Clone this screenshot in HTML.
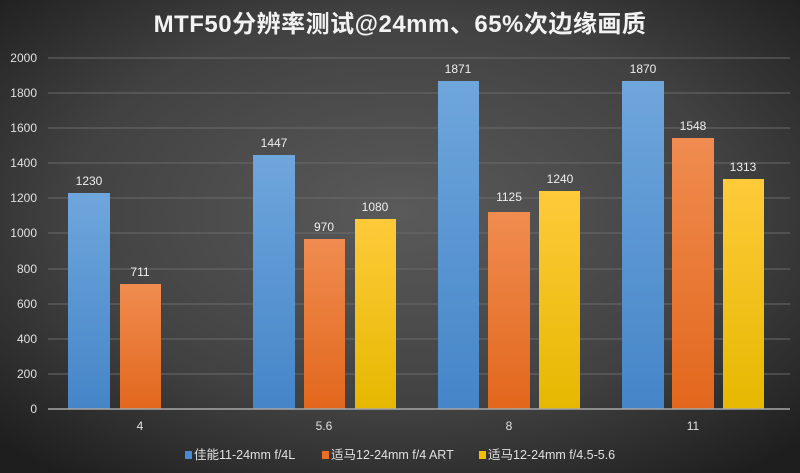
<!DOCTYPE html>
<html><head><meta charset="utf-8"><style>
html,body{margin:0;padding:0;width:800px;height:473px;overflow:hidden;background:#333}
</style></head><body>
<svg width="800" height="473" xmlns="http://www.w3.org/2000/svg" font-family="Liberation Sans, Noto Sans CJK SC, sans-serif">
<defs>
<radialGradient id="bg" cx="0.5" cy="0.45" r="0.7">
<stop offset="0" stop-color="#5a5a5a"/><stop offset="0.6" stop-color="#414141"/><stop offset="1" stop-color="#1e1e1e"/>
</radialGradient>
<linearGradient id="gb" x1="0" y1="0" x2="0" y2="1"><stop offset="0" stop-color="#6fa6dc"/><stop offset="1" stop-color="#4585c8"/></linearGradient>
<linearGradient id="go" x1="0" y1="0" x2="0" y2="1"><stop offset="0" stop-color="#f08c50"/><stop offset="1" stop-color="#e2671c"/></linearGradient>
<linearGradient id="gy" x1="0" y1="0" x2="0" y2="1"><stop offset="0" stop-color="#ffca3a"/><stop offset="1" stop-color="#e6b800"/></linearGradient>
</defs>
<rect width="800" height="473" fill="url(#bg)"/>
<text x="400" y="32" text-anchor="middle" fill="#f2f2f2" font-size="24" font-weight="bold" letter-spacing="0.5">MTF50分辨率测试@24mm、65%次边缘画质</text>
<g stroke="#6a6a6a" stroke-width="1">
<line x1="48" x2="790" y1="58" y2="58"/><line x1="48" x2="790" y1="93" y2="93"/><line x1="48" x2="790" y1="128" y2="128"/><line x1="48" x2="790" y1="163" y2="163"/><line x1="48" x2="790" y1="198" y2="198"/><line x1="48" x2="790" y1="233" y2="233"/><line x1="48" x2="790" y1="269" y2="269"/><line x1="48" x2="790" y1="304" y2="304"/><line x1="48" x2="790" y1="339" y2="339"/><line x1="48" x2="790" y1="374" y2="374"/>
</g>
<g fill="#e0e0e0" font-size="12" text-anchor="end">
<text x="37" y="62">2000</text><text x="37" y="97">1800</text><text x="37" y="132">1600</text><text x="37" y="167">1400</text><text x="37" y="202">1200</text><text x="37" y="237">1000</text><text x="37" y="273">800</text><text x="37" y="308">600</text><text x="37" y="343">400</text><text x="37" y="378">200</text><text x="37" y="413">0</text>
</g>
<g>
<rect x="68" y="193" width="42" height="216" fill="url(#gb)"/>
<rect x="120" y="284" width="41" height="125" fill="url(#go)"/>
<rect x="253" y="155" width="42" height="254" fill="url(#gb)"/>
<rect x="304" y="239" width="41" height="170" fill="url(#go)"/>
<rect x="355" y="219" width="41" height="190" fill="url(#gy)"/>
<rect x="438" y="81" width="41" height="328" fill="url(#gb)"/>
<rect x="488" y="212" width="42" height="197" fill="url(#go)"/>
<rect x="539" y="191" width="41" height="218" fill="url(#gy)"/>
<rect x="622" y="81" width="42" height="328" fill="url(#gb)"/>
<rect x="672" y="138" width="42" height="271" fill="url(#go)"/>
<rect x="723" y="179" width="41" height="230" fill="url(#gy)"/>
</g>
<line x1="48" x2="790" y1="409" y2="409" stroke="#a8a8a8" stroke-width="1.5"/>
<g fill="#eeeeee" font-size="12" text-anchor="middle">
<text x="89" y="185">1230</text><text x="140" y="276">711</text>
<text x="274" y="147">1447</text><text x="324" y="231">970</text><text x="375" y="211">1080</text>
<text x="458" y="73">1871</text><text x="509" y="201">1125</text><text x="560" y="183">1240</text>
<text x="643" y="73">1870</text><text x="693" y="130">1548</text><text x="743" y="171">1313</text>
</g>
<g fill="#e0e0e0" font-size="12" text-anchor="middle">
<text x="140" y="430">4</text><text x="324" y="430">5.6</text><text x="509" y="430">8</text><text x="693" y="430">11</text>
</g>
<g font-size="12.5" fill="#e0e0e0">
<rect x="185" y="451" width="7" height="8" fill="#4a8ad0"/><text x="194" y="459">佳能11-24mm f/4L</text>
<rect x="322" y="451" width="7" height="8" fill="#e8701e"/><text x="331" y="459">适马12-24mm f/4 ART</text>
<rect x="479" y="451" width="7" height="8" fill="#f2c000"/><text x="488" y="459">适马12-24mm f/4.5-5.6</text>
</g>
</svg>
</body></html>
